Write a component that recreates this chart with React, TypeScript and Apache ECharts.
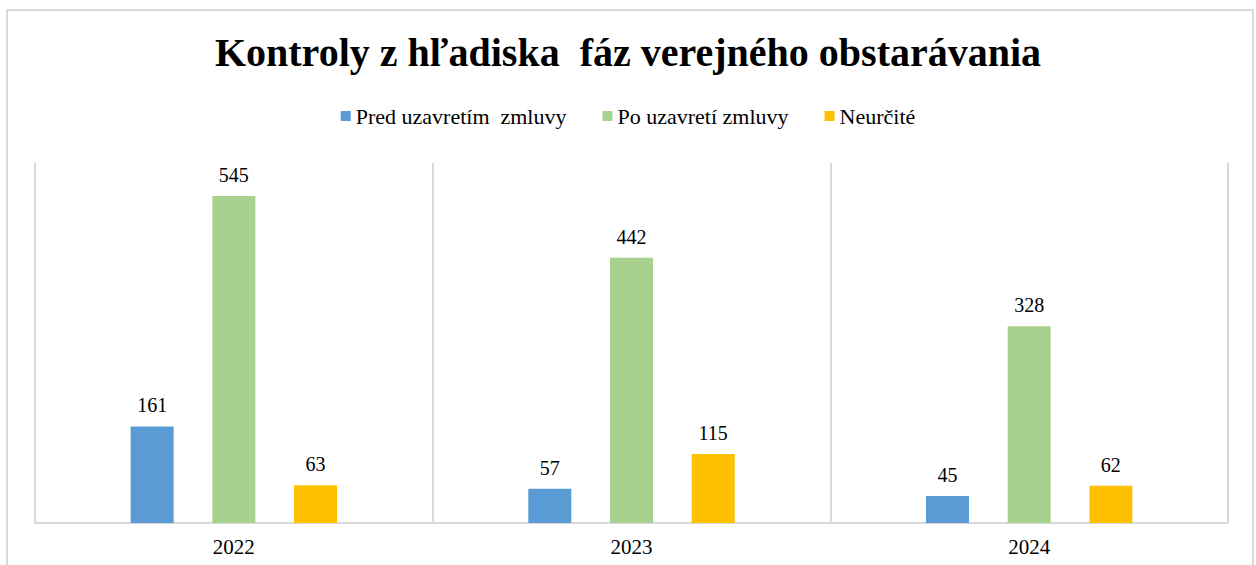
import React, { useEffect, useRef } from "react";
import * as echarts from "echarts";

const years = ["2022", "2023", "2024"];
const predUzavretim = [161, 57, 45];
const poUzavreti = [545, 442, 328];
const neurcite = [63, 115, 62];
const seriesNames = ["Pred uzavretím  zmluvy", "Po uzavretí zmluvy", "Neurčité"];
const colors = ["#5B9BD5", "#A9D18E", "#FFC000"];
const titleText = "Kontroly z hľadiska  fáz verejného obstarávania";

const FONT = "Liberation Serif";

export default function App() {
  const ref = useRef<HTMLDivElement>(null);
  useEffect(() => {
    if (!ref.current) return;
    const chart = echarts.init(ref.current, null, { renderer: "svg" });
    const mk = (name: string, data: number[], color: string) => ({
      name,
      type: "bar",
      data,
      barWidth: 43,
      barGap: "90%",
      itemStyle: { color },
      label: {
        show: true,
        position: "top",
        distance: 11,
        color: "#000",
        fontFamily: FONT,
        fontSize: 20,
      },
    });
    chart.setOption({
      animation: false,
      backgroundColor: "#fff",
      textStyle: { fontFamily: FONT },
      title: {
        text: titleText,
        left: "center",
        top: 27,
        textStyle: { fontFamily: FONT, fontWeight: "bold", fontSize: 40, color: "#000" },
      },
      legend: {
        top: 100,
        left: "center",
        itemWidth: 10,
        itemHeight: 10,
        itemGap: 36,
        icon: "rect",
        textStyle: { fontFamily: FONT, fontSize: 22, color: "#000" },
      },
      graphic: [
        {
          type: "rect",
          shape: { x: 7, y: 10, width: 1246, height: 600 },
          style: { fill: "none", stroke: "#d9d9d9", lineWidth: 2 },
          silent: true,
        },
      ],
      grid: { left: 35, right: 28, top: 163, bottom: 42 },
      xAxis: {
        type: "category",
        data: years,
        axisLine: { show: true, lineStyle: { color: "#d9d9d9", width: 2 } },
        axisTick: { show: false },
        splitLine: { show: true, lineStyle: { color: "#d9d9d9", width: 2 } },
        axisLabel: { fontFamily: FONT, fontSize: 21, color: "#000", margin: 13 },
      },
      yAxis: {
        type: "value",
        min: 0,
        max: 600,
        show: false,
        splitLine: { show: false },
      },
      series: [
        mk(seriesNames[0], predUzavretim, colors[0]),
        mk(seriesNames[1], poUzavreti, colors[1]),
        mk(seriesNames[2], neurcite, colors[2]),
      ],
    });
    return () => chart.dispose();
  }, []);
  return <div ref={ref} style={{ width: 1256, height: 565, position: "absolute", left: 0, top: 0 }} />;
}
